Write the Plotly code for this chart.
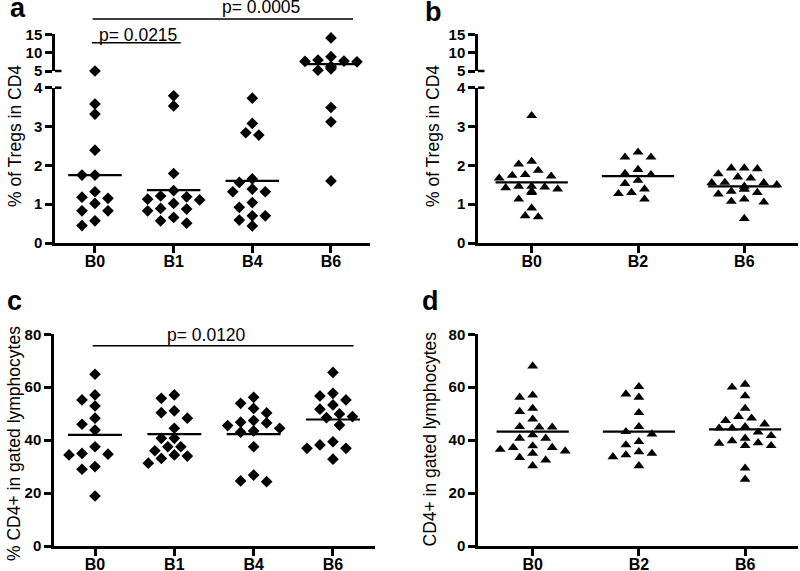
import math
import plotly.graph_objects as go

# ---------------- data ----------------
cats_a = ["B0", "B1", "B4", "B6"]
cats_b = ["B0", "B2", "B6"]

a_B0 = [5.0, 3.58, 3.32, 2.39, 1.75, 1.75, 1.32, 1.18, 1.15, 1.02, 0.83, 0.83, 0.57, 0.45]
a_B1 = [3.79, 3.53, 1.79, 1.35, 1.21, 1.19, 1.13, 1.11, 1.02, 0.89, 0.875, 0.83, 0.66, 0.57, 0.51]
a_B4 = [3.73, 3.08, 2.84, 2.78, 1.65, 1.56, 1.39, 1.32, 1.32, 1.04, 0.92, 0.70, 0.70, 0.59, 0.44]
a_B6 = [14.0, 8.9, 8.0, 7.7, 7.6, 7.5, 6.3, 6.0, 5.6, 5.2, 4.9, 3.49, 3.12, 1.60]
a_mean = [1.75, 1.36, 1.60, 6.9]

b_B0 = [3.28, 2.10, 2.03, 1.87, 1.76, 1.74, 1.72, 1.67, 1.46, 1.46, 1.44, 1.42, 1.39, 1.33, 1.30, 1.13, 0.90, 0.70, 0.67]
b_B2 = [2.34, 2.21, 2.21, 1.89, 1.79, 1.76, 1.61, 1.53, 1.39, 1.30, 1.27, 1.13]
b_B6 = [1.93, 1.93, 1.91, 1.78, 1.70, 1.67, 1.56, 1.55, 1.55, 1.50, 1.46, 1.39, 1.39, 1.33, 1.30, 1.26, 1.13, 1.07, 1.05, 0.63]
b_mean = [1.56, 1.72, 1.46]

c_B0 = [64.9, 57.1, 55.2, 52.9, 48.3, 46.0, 43.8, 37.5, 35.0, 34.7, 34.4, 30.0, 29.0, 18.9]
c_B1 = [57.1, 55.8, 51.1, 50.4, 48.3, 44.5, 40.7, 40.7, 37.5, 37.5, 36.0, 34.4, 34.0, 33.1, 31.3]
c_B4 = [56.2, 53.9, 52.0, 50.3, 47.4, 46.8, 46.5, 45.5, 44.5, 43.5, 43.0, 37.5, 26.8, 24.6, 24.3]
c_B6 = [65.6, 57.7, 56.7, 55.2, 53.3, 51.7, 49.9, 48.9, 48.5, 45.7, 39.4, 38.2, 36.9, 36.9, 32.8]
c_mean = [42.0, 42.3, 42.3, 47.8]

d_B0 = [68.0, 57.0, 56.2, 52.0, 50.8, 47.9, 45.1, 44.9, 44.9, 42.0, 40.7, 40.7, 37.8, 37.2, 37.2, 36.5, 35.9, 35.0, 33.4, 32.5, 30.3]
d_B2 = [60.2, 57.4, 56.2, 50.4, 45.1, 43.2, 42.3, 39.4, 38.2, 35.6, 35.0, 34.4, 33.7, 30.3]
d_B6 = [61.1, 60.0, 56.7, 52.0, 48.9, 48.3, 47.4, 46.1, 45.1, 44.5, 44.5, 43.0, 41.7, 40.7, 39.7, 39.0, 38.8, 37.9, 37.9, 29.4, 25.2]
d_mean = [43.2, 43.2, 44.1]

title_ab = "% of Tregs in CD4"
title_c = "% CD4+ in gated lymphocytes"
title_d = "CD4+ in gated lymphocytes"
pvals_a = ["p= 0.0215", "p= 0.0005"]
pvals_c = ["p= 0.0120"]

# ---------------- layout helpers ----------------
W, H = 800, 571
FONT = "Liberation Sans, Arial, sans-serif"


def fx(px):
    return px / W


def fy(py):
    return 1 - py / H


panels = {
    "a": dict(x="x", xdom=(55, 370), xrng=(-0.508, 3.496), cats=cats_a,
              groups=[a_B0, a_B1, a_B4, a_B6], means=a_mean, symbol="diamond", size=9,
              lower=dict(y="y", dom=(243, 87.7), rng=(0, 4), ticks=[0, 1, 2, 3, 4]),
              upper=dict(y="y2", dom=(71, 34.3), rng=(5, 15), ticks=[5, 10, 15])),
    "b": dict(x="x2", xdom=(478, 798), xrng=(-0.505, 2.505), cats=cats_b,
              groups=[b_B0, b_B2, b_B6], means=b_mean, symbol="triangle-up", size=9.5,
              lower=dict(y="y3", dom=(243, 87.7), rng=(0, 4), ticks=[0, 1, 2, 3, 4]),
              upper=dict(y="y4", dom=(71, 34.3), rng=(5, 15), ticks=[5, 10, 15])),
    "c": dict(x="x3", xdom=(54, 375), xrng=(-0.517, 3.53), cats=cats_a,
              groups=[c_B0, c_B1, c_B4, c_B6], means=c_mean, symbol="diamond", size=9,
              lower=dict(y="y5", dom=(546, 334.3), rng=(0, 80), ticks=[0, 20, 40, 60, 80]),
              upper=None),
    "d": dict(x="x4", xdom=(478, 798), xrng=(-0.515, 2.498), cats=cats_b,
              groups=[d_B0, d_B2, d_B6], means=d_mean, symbol="triangle-up", size=9.5,
              lower=dict(y="y6", dom=(546, 334.3), rng=(0, 80), ticks=[0, 20, 40, 60, 80]),
              upper=None),
}


def ypx(v, ax):
    b, t = ax["dom"]
    r0, r1 = ax["rng"]
    return b - (v - r0) / (r1 - r0) * (b - t)


def pick_axis(p, v):
    if p["upper"] is not None and v > 4.5:
        return p["upper"]
    return p["lower"]


def swarm(vals, p, step=6.5, mind=10.0):
    xppu = (p["xdom"][1] - p["xdom"][0]) / (p["xrng"][1] - p["xrng"][0])
    placed = []
    offs = []
    for v in vals:
        yy = ypx(v, pick_axis(p, v))
        chosen = 0
        for k in [0, -1, 1, -2, 2, -3, 3, -4, 4, -5, 5]:
            dx = k * step
            if all(math.hypot(dx - qx, yy - qy) >= mind for qx, qy in placed):
                chosen = dx
                break
        placed.append((chosen, yy))
        offs.append(chosen / xppu)
    return offs


fig = go.Figure()

for key, p in panels.items():
    # make sure every axis of the panel has a subplot (empty anchor traces)
    for part in ("lower", "upper"):
        ax = p[part]
        if ax is not None:
            fig.add_trace(go.Scatter(x=[None], y=[None], xaxis=p["x"], yaxis=ax["y"],
                                     mode="markers", showlegend=False, hoverinfo="skip"))
    for i, vals in enumerate(p["groups"]):
        offs = swarm(vals, p)
        for part in ("lower", "upper"):
            ax = p[part]
            if ax is None:
                continue
            xs, ys = [], []
            for v, o in zip(vals, offs):
                if pick_axis(p, v) is ax:
                    xs.append(i + o)
                    ys.append(v)
            if xs:
                fig.add_trace(go.Scatter(
                    x=xs, y=ys, xaxis=p["x"], yaxis=ax["y"], mode="markers",
                    marker=dict(symbol=p["symbol"], size=p["size"], color="black",
                                line=dict(width=0)),
                    cliponaxis=False, showlegend=False, hoverinfo="skip"))
    # mean lines
    for i, m in enumerate(p["means"]):
        ax = pick_axis(p, m)
        fig.add_trace(go.Scatter(
            x=[i - 0.34, i + 0.34], y=[m, m], xaxis=p["x"], yaxis=ax["y"],
            mode="lines", line=dict(color="black", width=2.2),
            cliponaxis=False, showlegend=False, hoverinfo="skip"))

axstyle = dict(showline=True, linecolor="black", linewidth=2.5, ticks="outside",
               ticklen=7, tickwidth=2.5, tickcolor="black", showgrid=False,
               zeroline=False, fixedrange=True, automargin=False)
xfont = dict(family=FONT, size=16, color="black", weight="bold")
yfont = dict(family=FONT, size=15, color="black", weight="bold")

layout = dict(width=W, height=H, autosize=False, margin=dict(l=0, r=0, t=0, b=0, pad=0),
              paper_bgcolor="white", plot_bgcolor="white", showlegend=False)


def axname(ref):
    return ("xaxis" if ref[0] == "x" else "yaxis") + ref[1:]


shapes = []
for key, p in panels.items():
    low = p["lower"]
    layout[axname(p["x"])] = dict(
        axstyle, domain=[fx(p["xdom"][0]), fx(p["xdom"][1])], range=list(p["xrng"]),
        tickvals=list(range(len(p["cats"]))), ticktext=p["cats"], tickfont=xfont,
        anchor=low["y"], ticklabelstandoff=-5)
    for ax in (low, p["upper"]):
        if ax is None:
            continue
        layout[axname(ax["y"])] = dict(
            axstyle, domain=[fy(ax["dom"][0]), fy(ax["dom"][1])], range=list(ax["rng"]),
            tickvals=ax["ticks"], ticktext=[str(t) for t in ax["ticks"]], tickfont=yfont,
            anchor=p["x"])
    if p["upper"] is not None:
        # small inner caps at the axis break (top of lower segment, bottom of upper)
        for ax, tv in ((low, low["rng"][1]), (p["upper"], p["upper"]["rng"][0])):
            yy = ypx(tv, ax)
            shapes.append(dict(type="line", xref="paper", yref="paper",
                               x0=fx(p["xdom"][0]), x1=fx(p["xdom"][0] + 6.5),
                               y0=fy(yy), y1=fy(yy), line=dict(color="black", width=2.5)))

fig.update_layout(**layout)

# comparison brackets
shapes += [
    dict(type="line", xref="x", yref="paper", x0=-0.04, x1=1.09, y0=fy(42.7), y1=fy(42.7),
         line=dict(color="black", width=1.5)),
    dict(type="line", xref="x", yref="paper", x0=-0.03, x1=3.28, y0=fy(19), y1=fy(19),
         line=dict(color="black", width=1.5)),
    dict(type="line", xref="x3", yref="paper", x0=-0.03, x1=3.26, y0=fy(345.7), y1=fy(345.7),
         line=dict(color="black", width=1.5)),
]

tfont = dict(family=FONT, size=17.5, color="black")
lfont = dict(family=FONT, size=27, color="black", weight="bold")
annotations = [
    dict(text=pvals_a[0], xref="x", yref="paper", x=0.55, y=fy(34.5), showarrow=False,
         xanchor="center", yanchor="middle", font=tfont, borderpad=0),
    dict(text=pvals_a[1], xref="x", yref="paper", x=2.11, y=fy(7.3), showarrow=False,
         xanchor="center", yanchor="middle", font=tfont, borderpad=0),
    dict(text=pvals_c[0], xref="x3", yref="paper", x=1.41, y=fy(334.5), showarrow=False,
         xanchor="center", yanchor="middle", font=tfont, borderpad=0),
    dict(text=title_ab, xref="paper", yref="paper", x=fx(14.5), y=fy(136.5), textangle=-90,
         showarrow=False, xanchor="center", yanchor="middle", font=tfont, borderpad=0),
    dict(text=title_ab, xref="paper", yref="paper", x=fx(432.5), y=fy(136.5), textangle=-90,
         showarrow=False, xanchor="center", yanchor="middle", font=tfont, borderpad=0),
    dict(text=title_c, xref="paper", yref="paper", x=fx(14), y=fy(444), textangle=-90,
         showarrow=False, xanchor="center", yanchor="middle", font=tfont, borderpad=0),
    dict(text=title_d, xref="paper", yref="paper", x=fx(429.5), y=fy(439), textangle=-90,
         showarrow=False, xanchor="center", yanchor="middle", font=tfont, borderpad=0),
    dict(text="a", xref="paper", yref="paper", x=fx(9), y=fy(8), showarrow=False,
         xanchor="left", yanchor="middle", font=lfont, borderpad=0),
    dict(text="b", xref="paper", yref="paper", x=fx(424), y=fy(11.5), showarrow=False,
         xanchor="left", yanchor="middle", font=lfont, borderpad=0),
    dict(text="c", xref="paper", yref="paper", x=fx(6), y=fy(300.5), showarrow=False,
         xanchor="left", yanchor="middle", font=lfont, borderpad=0),
    dict(text="d", xref="paper", yref="paper", x=fx(421), y=fy(300.5), showarrow=False,
         xanchor="left", yanchor="middle", font=lfont, borderpad=0),
]
fig.update_layout(shapes=shapes, annotations=annotations)

fig.write_html("out.html", config={"responsive": False, "displayModeBar": False})

# remove the default page margin so the figure sits at the window's top-left corner
with open("out.html", "r", encoding="utf-8") as fh:
    html = fh.read()
html = html.replace("<head>", "<head><style>html,body{margin:0;padding:0;overflow:hidden;}</style>", 1)
with open("out.html", "w", encoding="utf-8") as fh:
    fh.write(html)
